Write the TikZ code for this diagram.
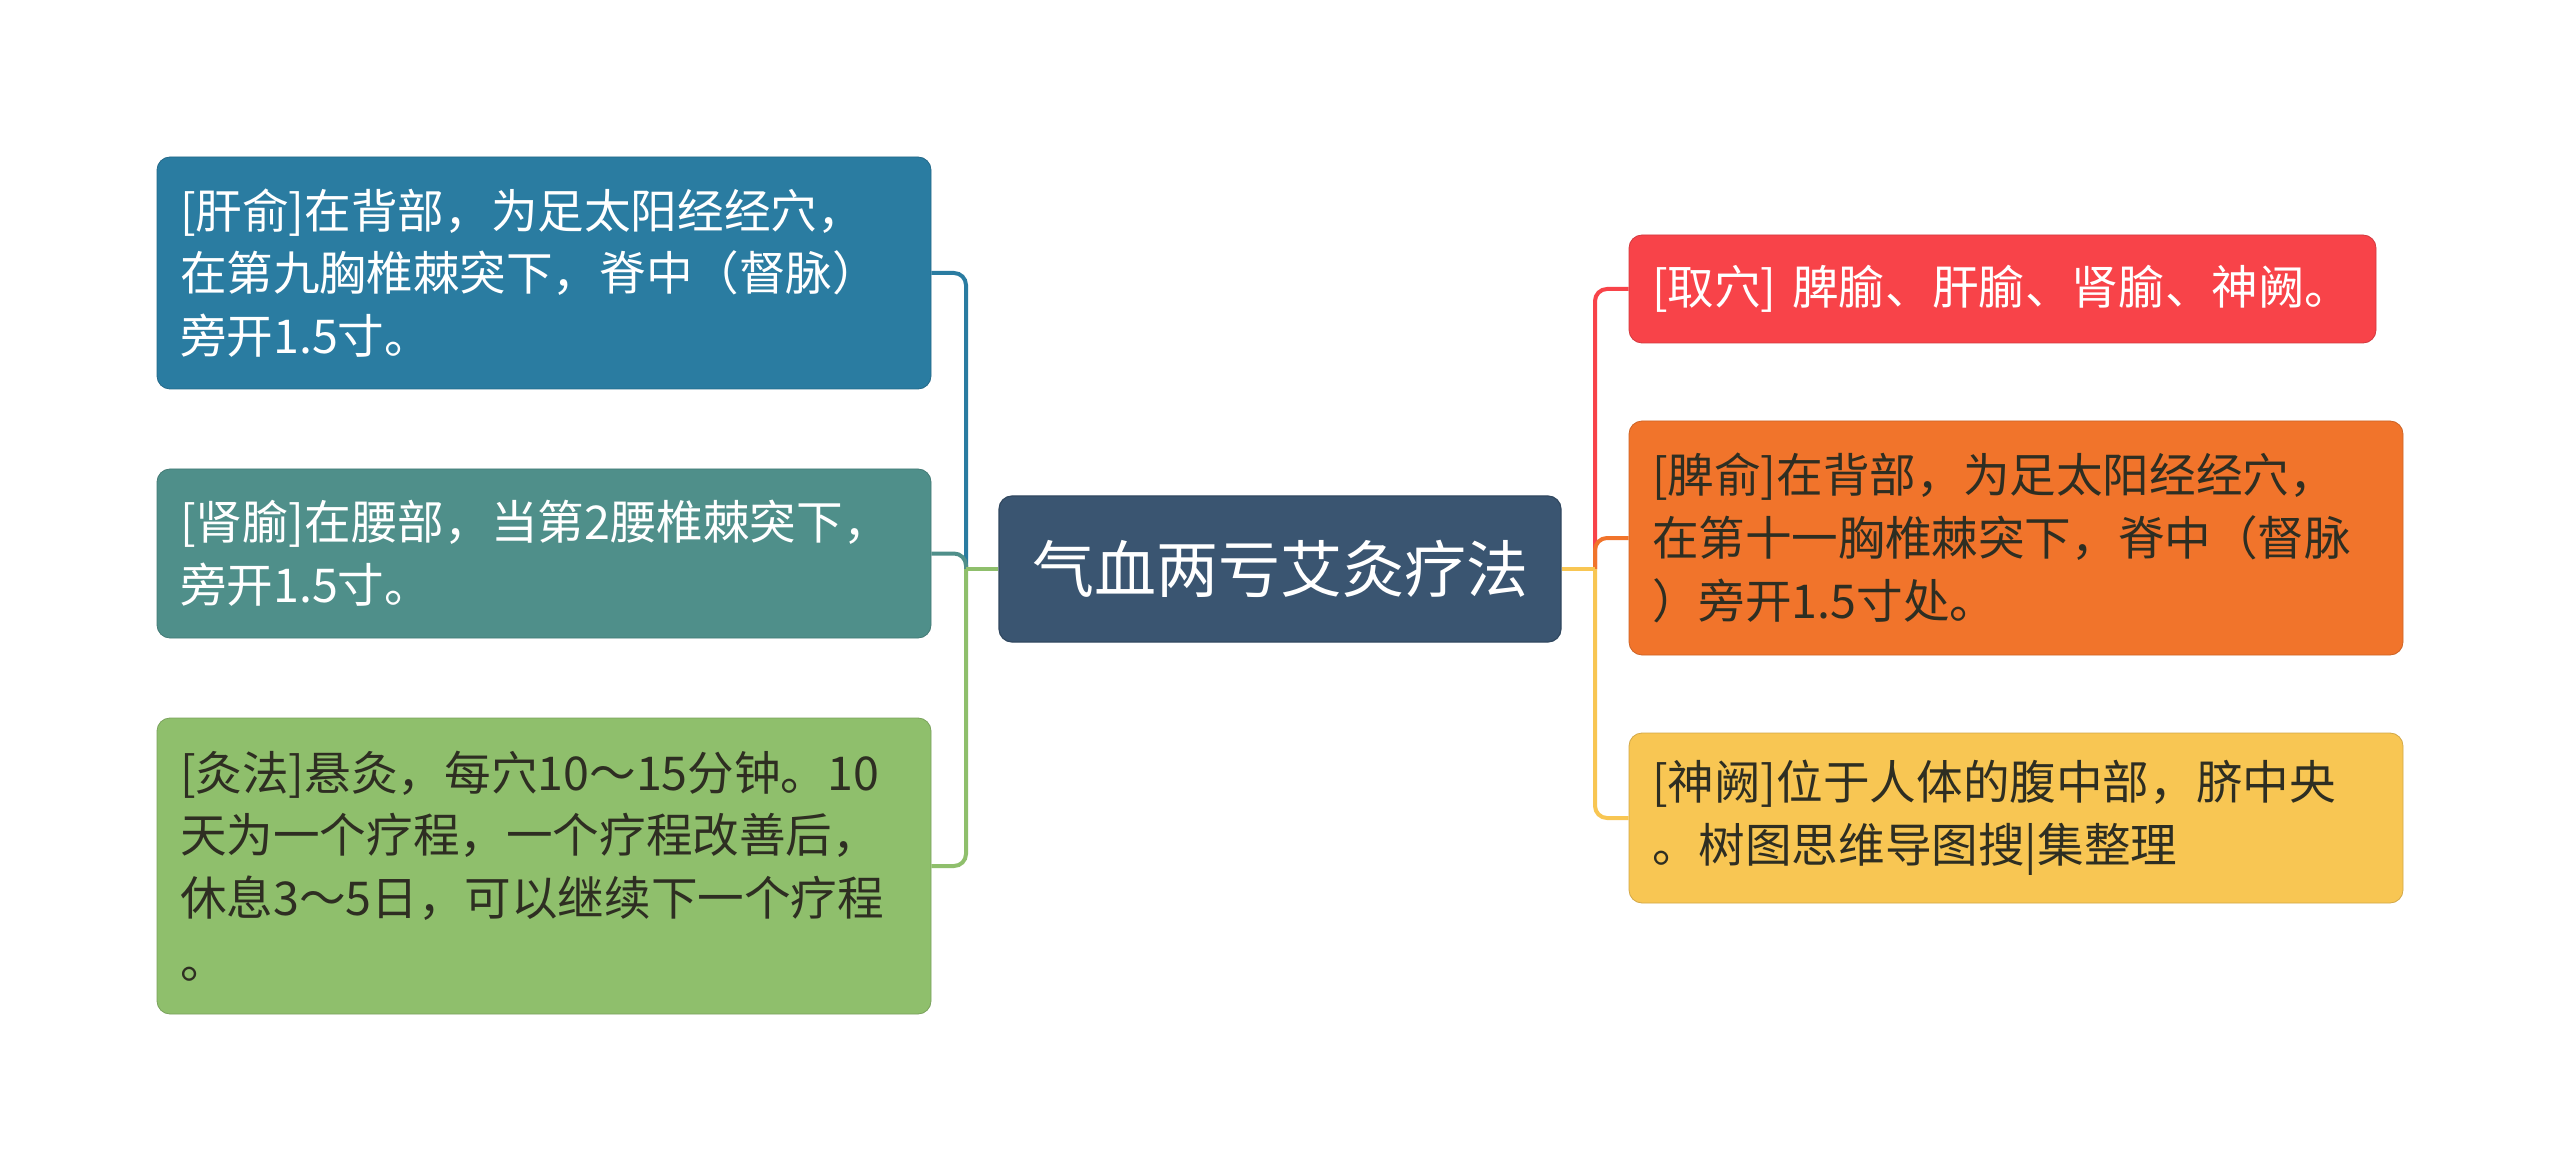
\documentclass[tikz,border=0pt]{standalone}
\usepackage{fontspec}
\setmainfont{Noto Sans CJK SC}
\definecolor{cblue}{HTML}{2A7CA1}
\definecolor{cteal}{HTML}{4F8F8A}
\definecolor{cgreen}{HTML}{8FBF6C}
\definecolor{ccenter}{HTML}{3A5571}
\definecolor{cred}{HTML}{F84349}
\definecolor{corange}{HTML}{F1742B}
\definecolor{cyellow}{HTML}{F8C653}
\definecolor{tdark}{HTML}{2E2E22}
\begin{document}
\begin{tikzpicture}[x=0.5pt,y=-0.5pt,
  leaf/.style={rectangle,rounded corners=6.5pt,inner xsep=11.5pt,inner ysep=0pt,
    minimum width=387pt,text width=364pt,align=left,
    font=\fontsize{23.3}{31.4}\selectfont},
  centerbox/.style={rectangle,rounded corners=6.5pt,fill=ccenter,draw=ccenter!85!black,line width=0.6pt,
    minimum width=281pt,minimum height=73pt,text=white,font=\fontsize{31}{36}\selectfont},
  link/.style={line width=2pt,rounded corners=6pt}]
\useasboundingbox (0,0) rectangle (2560,1171);
\fill[white] (0,0) rectangle (2560,1171);

\node[centerbox] (c) at (1280,569) {气血两亏艾灸疗法};

\node[leaf,fill=cblue,draw=cblue!85!black,text=white,minimum height=116pt] (l1) at (544,273)
  {[肝俞]在背部，为足太阳经经穴，\\在第九胸椎棘突下，脊中（督脉）\\旁开1.5寸。};
\node[leaf,fill=cteal,draw=cteal!85!black,text=white,minimum height=84.5pt] (l2) at (544,553.5)
  {[肾腧]在腰部，当第2腰椎棘突下，\\旁开1.5寸。};
\node[leaf,fill=cgreen,draw=cgreen!85!black,text=tdark,minimum height=148pt] (l3) at (544,866)
  {[灸法]悬灸，每穴10～15分钟。10\\天为一个疗程，一个疗程改善后，\\休息3～5日，可以继续下一个疗程\\。};

\node[leaf,fill=cred,draw=cred!85!black,text=white,minimum width=373.5pt,text width=350.5pt,minimum height=54pt] (r1) at (2002.5,289)
  {[取穴] 脾腧、肝腧、肾腧、神阙。};
\node[leaf,fill=corange,draw=corange!85!black,text=tdark,minimum height=117pt] (r2) at (2016,538)
  {[脾俞]在背部，为足太阳经经穴，\\在第十一胸椎棘突下，脊中（督脉\\）旁开1.5寸处。};
\node[leaf,fill=cyellow,draw=cyellow!85!black,text=tdark,minimum height=85pt] (r3) at (2016,818)
  {[神阙]位于人体的腹中部，脐中央\\。树图思维导图搜|集整理};

\coordinate (lj) at (966,569);
\coordinate (rj) at (1595,569);

\draw[link,cblue] (lj) |- (l1.east);
\draw[link,cteal] (lj) |- (l2.east);
\draw[link,cgreen] (lj) |- (l3.east);
\draw[link,cgreen,rounded corners=0pt] (c.west) -- (lj);

\draw[link,cred] (rj) |- (r1.west);
\draw[link,corange] (rj) |- (r2.west);
\draw[link,cyellow] (rj) |- (r3.west);
\draw[link,cyellow,rounded corners=0pt] (c.east) -- (rj);
\end{tikzpicture}
\end{document}
